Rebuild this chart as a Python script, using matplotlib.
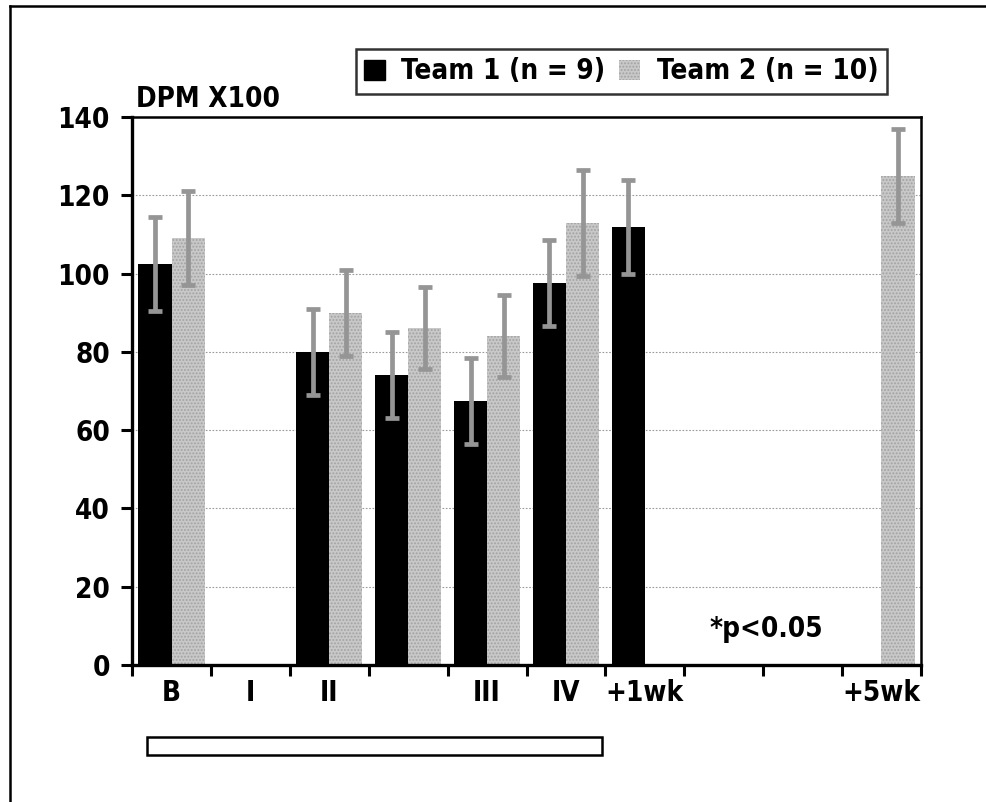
import numpy as np
import matplotlib
matplotlib.use("Agg")
import matplotlib.pyplot as plt
from matplotlib.patches import Patch, Rectangle
from matplotlib.lines import Line2D
from matplotlib import font_manager

# ---- data ----
categories = ['B', 'I', 'II', '', 'III', 'IV', '+1wk', '', '', '+5wk']
team1_vals = [102.5, np.nan, 80, 74, 67.5, 97.5, 112, np.nan, np.nan, np.nan]
team1_err = [12, np.nan, 11, 11, 11, 11, 12, np.nan, np.nan, np.nan]
team2_vals = [109, np.nan, 90, 86, 84, 113, np.nan, np.nan, np.nan, 125]
team2_err = [12, np.nan, 11, 10.5, 10.5, 13.5, np.nan, np.nan, np.nan, 12]
y_ticks = [0, 20, 40, 60, 80, 100, 120, 140]
legend_labels = ['Team 1 (n = 9)', 'Team 2 (n = 10)']
y_label = 'DPM X100'
note = '*p<0.05'

# ---- font ----
names = {f.name for f in font_manager.fontManager.ttflist}
if 'Liberation Sans Narrow' in names:
    fam = ['Liberation Sans Narrow', 'DejaVu Sans']
else:
    fam = ['DejaVu Sans']
plt.rcParams['font.family'] = fam
plt.rcParams['font.weight'] = 'bold'
plt.rcParams['font.stretch'] = 'condensed'
plt.rcParams['hatch.linewidth'] = 0.9
FS = 20

fig = plt.figure(figsize=(9.86, 8.02), dpi=100)
fig.patch.set_facecolor('white')
ax = fig.add_axes([0.134, 0.171, 0.800, 0.683])

n = len(categories)
x = np.arange(n) + 0.5
w = 0.42
c2 = '#c8c8c8'
hc = '#a2a2a2'
errc = '#959595'

ax.bar(x - w / 2, team1_vals, width=w, color='black', zorder=2)
ax.bar(x + w / 2, team2_vals, width=w, color=c2, hatch='.....',
       edgecolor=hc, linewidth=0, zorder=2)
ax.errorbar(x - w / 2, team1_vals, yerr=team1_err, fmt='none', ecolor=errc,
            elinewidth=3.4, capsize=5, capthick=3.4, zorder=3)
ax.errorbar(x + w / 2, team2_vals, yerr=team2_err, fmt='none', ecolor=errc,
            elinewidth=3.4, capsize=5, capthick=3.4, zorder=3)

ax.set_xlim(0, n)
ax.set_ylim(0, 140)
ax.set_yticks(y_ticks)
ax.set_yticklabels([str(v) for v in y_ticks], fontsize=FS, fontweight='bold')
ax.set_xticks(np.arange(n + 1))
ax.set_xticklabels([])
ax.set_xticks(x, minor=True)
ax.set_xticklabels(categories, minor=True, fontsize=FS, fontweight='bold')
ax.tick_params(axis='x', which='major', direction='out', length=8, width=2.2)
ax.tick_params(axis='x', which='minor', length=0, pad=10)
ax.tick_params(axis='y', which='major', direction='out', length=8, width=2.2, pad=8)

for yv in y_ticks[1:-1]:
    ax.axhline(yv, color='#9a9a9a', linestyle=(0, (1.5, 1.5)), linewidth=0.8, zorder=1)

for s in ['left', 'bottom']:
    ax.spines[s].set_linewidth(2.4)
for s in ['top', 'right']:
    ax.spines[s].set_linewidth(1.8)

ax.text(0.005, 1.008, y_label, transform=ax.transAxes, fontsize=FS,
        fontweight='bold', ha='left', va='bottom')
ax.text(7.32, 7.2, note, fontsize=FS, fontweight='bold', ha='left', va='baseline')

handles = [Patch(facecolor='black', edgecolor='black'),
           Patch(facecolor=c2, hatch='.....', edgecolor=hc, linewidth=0)]
leg = fig.legend(handles, legend_labels, loc='center', bbox_to_anchor=(0.63, 0.911),
                 ncol=2, frameon=True, fancybox=False,
                 handlelength=0.75, handleheight=0.75, handletextpad=0.6,
                 columnspacing=0.5, borderpad=0.3, borderaxespad=0,
                 prop={'weight': 'bold', 'size': FS, 'stretch': 'condensed'})
leg.get_frame().set_edgecolor('black')
leg.get_frame().set_linewidth(1.8)

# lower bracket box
W, H = 986, 802
fig.patches.append(Rectangle((147 / W, 1 - 755 / H), (602 - 147) / W, 18 / H,
                             transform=fig.transFigure, facecolor='white',
                             edgecolor='black', linewidth=1.8))
# figure border (top and left visible)
fig.lines.append(Line2D([10 / W, 1.0], [1 - 6 / H, 1 - 6 / H], transform=fig.transFigure,
                        color='black', linewidth=1.8))
fig.lines.append(Line2D([10 / W, 10 / W], [0, 1 - 6 / H], transform=fig.transFigure,
                        color='black', linewidth=1.8))

fig.savefig('out.png', dpi=100)
